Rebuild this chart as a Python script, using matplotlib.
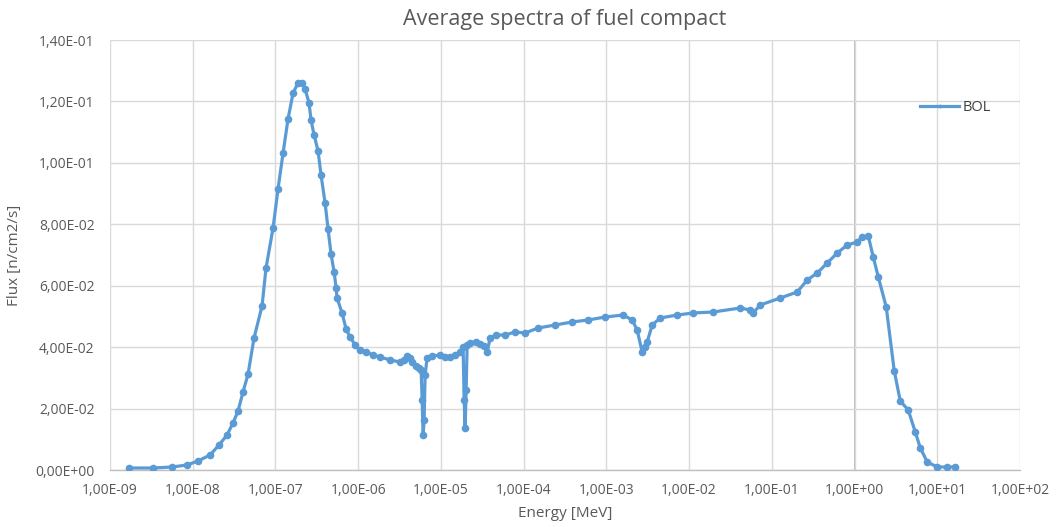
import matplotlib
matplotlib.use("Agg")
import matplotlib.pyplot as plt
from matplotlib.ticker import FixedLocator, FuncFormatter, NullLocator

title = "Average spectra of fuel compact"
series_name = "BOL"
x_label = "Energy [MeV]"
y_label = "Flux [n/cm2/s]"

log_energy = [
    -8.770, -8.480, -8.250, -8.069, -7.936, -7.791, -7.682, -7.585, -7.513, -7.452,
    -7.392, -7.331, -7.259, -7.162, -7.114, -7.029, -6.969, -6.908, -6.848, -6.787,
    -6.727, -6.678, -6.642, -6.594, -6.570, -6.533, -6.485, -6.449, -6.400, -6.364,
    -6.328, -6.291, -6.267, -6.255, -6.195, -6.146, -6.098, -6.037, -5.977, -5.904,
    -5.820, -5.735, -5.614, -5.493, -5.445, -5.409, -5.372, -5.348, -5.300, -5.264,
    -5.239, -5.227, -5.215, -5.203, -5.191, -5.167, -5.106, -5.010, -4.949, -4.889,
    -4.828, -4.768, -4.732, -4.719, -4.707, -4.695, -4.683, -4.647, -4.574, -4.526,
    -4.478, -4.441, -4.405, -4.333, -4.224, -4.103, -3.982, -3.825, -3.619, -3.414,
    -3.220, -3.015, -2.797, -2.688, -2.628, -2.567, -2.531, -2.507, -2.446, -2.349,
    -2.144, -1.950, -1.709, -1.382, -1.261, -1.225, -1.140, -0.898, -0.693, -0.572,
    -0.451, -0.330, -0.209, -0.088, 0.033, 0.093, 0.166, 0.226, 0.287, 0.383,
    0.480, 0.553, 0.649, 0.734, 0.795, 0.879, 1.000, 1.121, 1.218,
]

flux = [
    0.00065, 0.00065, 0.00098, 0.00163, 0.00293, 0.00488, 0.00814, 0.01140, 0.01530, 0.01921,
    0.02540, 0.03126, 0.04298, 0.05340, 0.06577, 0.07879, 0.09149, 0.10321, 0.11428, 0.12274,
    0.12600, 0.12600, 0.12405, 0.11949, 0.11395, 0.10907, 0.10386, 0.09605, 0.08693, 0.07846,
    0.07033, 0.06446, 0.05926, 0.05600, 0.05112, 0.04591, 0.04330, 0.04070, 0.03907, 0.03842,
    0.03744, 0.03679, 0.03581, 0.03516, 0.03581, 0.03712, 0.03646, 0.03516, 0.03386, 0.03321,
    0.03256, 0.02279, 0.01140, 0.01628, 0.03093, 0.03646, 0.03712, 0.03744, 0.03679, 0.03679,
    0.03744, 0.03842, 0.04005, 0.02279, 0.01367, 0.02605, 0.04070, 0.04135, 0.04167, 0.04102,
    0.04037, 0.03842, 0.04298, 0.04395, 0.04395, 0.04493, 0.04460, 0.04623, 0.04721, 0.04819,
    0.04884, 0.04981, 0.05046, 0.04884, 0.04558, 0.03842, 0.04005, 0.04167, 0.04721, 0.04949,
    0.05046, 0.05112, 0.05144, 0.05274, 0.05209, 0.05112, 0.05372, 0.05600, 0.05795, 0.06186,
    0.06414, 0.06740, 0.07065, 0.07325, 0.07423, 0.07586, 0.07619, 0.06935, 0.06284, 0.05307,
    0.03223, 0.02246, 0.01953, 0.01237, 0.00716, 0.00260, 0.00098, 0.00098, 0.00098,
]

x_tick_exponents = list(range(-9, 3))
y_ticks = [0.0, 0.02, 0.04, 0.06, 0.08, 0.10, 0.12, 0.14]

energy = [10.0 ** e for e in log_energy]

plt.rcParams['font.family'] = ['Open Sans', 'DejaVu Sans']

fig = plt.figure(figsize=(10.56, 5.27), dpi=100)
ax = fig.add_axes([110 / 1056, 57 / 527, 910 / 1056, 430 / 527])

line_color = "#5B9BD5"
ax.plot(energy, flux, color=line_color, linewidth=2.3, marker="o",
        markersize=5.5, markeredgewidth=0, label=series_name, zorder=3)

ax.set_xscale("log")
ax.set_xlim(1e-9, 1e2)
ax.set_ylim(0, 0.14)
ax.xaxis.set_major_locator(FixedLocator([10.0 ** e for e in x_tick_exponents]))
ax.xaxis.set_minor_locator(NullLocator())
ax.yaxis.set_major_locator(FixedLocator(y_ticks))


def fmt_sci(v, pos=None):
    s = "{:.2E}".format(v)
    mant, exp = s.split("E")
    sign = exp[0]
    digits = exp[1:].zfill(2)
    return mant.replace(".", ",") + "E" + sign + digits


ax.xaxis.set_major_formatter(FuncFormatter(fmt_sci))
ax.yaxis.set_major_formatter(FuncFormatter(fmt_sci))

ax.grid(True, which="major", color="#d9d9d9", linewidth=1.0, zorder=0)
ax.axvline(1.0, color="#b0b0b0", linewidth=1.2, zorder=1)
for side in ["top", "right", "left"]:
    ax.spines[side].set_visible(False)
ax.spines["bottom"].set_color("#bfbfbf")
ax.spines["bottom"].set_linewidth(1.0)
ax.tick_params(axis="both", length=0, labelsize=10, labelcolor="#595959")
ax.tick_params(axis="y", pad=11)
ax.tick_params(axis="x", pad=9)

ax.set_title(title, fontsize=15.5, color="#595959", pad=11)
ax.set_xlabel(x_label, fontsize=11, color="#595959", labelpad=6)
ax.set_ylabel(y_label, fontsize=11, color="#595959", labelpad=10)

leg = ax.legend(loc="center left", bbox_to_anchor=(0.890, 0.842), frameon=False,
                fontsize=10.5, handlelength=2.7, handletextpad=0.2, markerscale=0.5,
                borderpad=0, borderaxespad=0)
for t in leg.get_texts():
    t.set_color("#404040")

fig.savefig("out.png", dpi=100, facecolor="white")
